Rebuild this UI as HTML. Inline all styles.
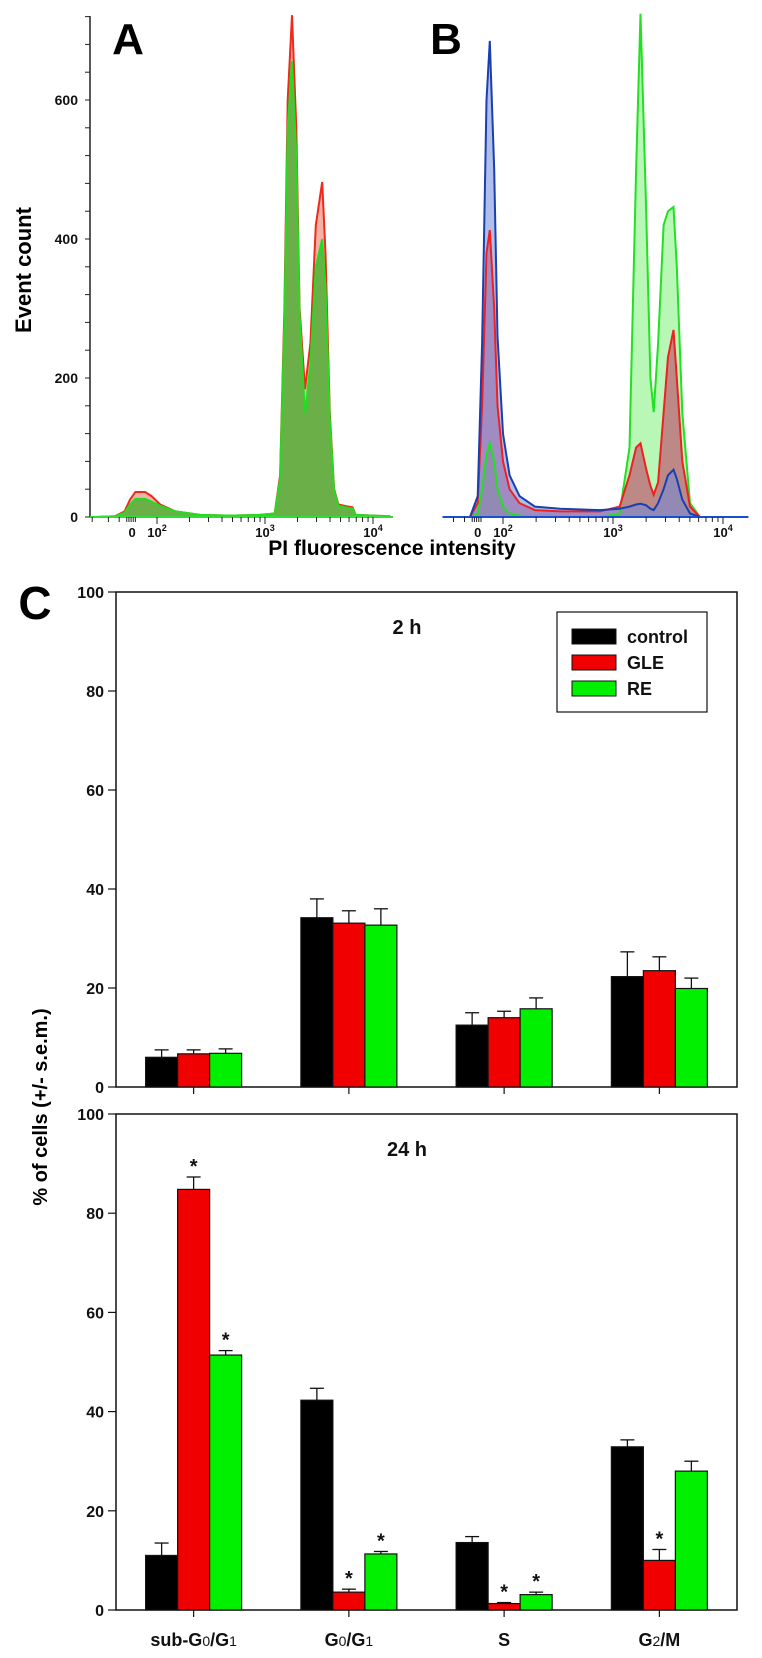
<!DOCTYPE html>
<html><head><meta charset="utf-8">
<style>
html,body{margin:0;padding:0;background:#fff;}
svg{display:block;font-family:"Liberation Sans",Arial,sans-serif;}
.b{font-weight:bold;}
.n{font-family:"Liberation Sans Narrow","Liberation Sans",sans-serif;font-weight:bold;}
</style></head>
<body>
<svg id="fig" width="762" height="1658" viewBox="0 0 762 1658" xmlns="http://www.w3.org/2000/svg">
<g id="hist"></g>
<g id="bars"></g>
</svg>
<script>
// ---------- Histogram data ----------
const histA_v = [1.43,1.61,1.70,1.75,1.80,1.89,1.95,2.03,2.17,2.40,2.68,2.95,3.09,3.14,3.18,3.21,3.25,3.29,3.32,3.37,3.42,3.47,3.53,3.56,3.60,3.64,3.68,3.77,3.81,3.84,4.16];
const histA_red = [0,1,8,25,36,36,30,18,8,3,2,3,5,60,300,600,722,560,300,184,250,420,482,380,150,40,18,15,14,3,1];
const histA_green = [0,1,6,18,26,26,22,16,8,3,2,3,5,55,280,560,656,520,290,148,220,360,400,330,140,38,16,13,12,3,1];
const histB_v = [1.45,1.70,1.77,1.81,1.85,1.88,1.92,1.95,2.00,2.06,2.15,2.29,2.52,2.88,3.06,3.15,3.21,3.25,3.30,3.34,3.37,3.41,3.46,3.50,3.55,3.58,3.63,3.70,3.79,4.23];
const histB_blue = [0,0,30,250,600,685,500,260,120,60,30,15,12,10,12,15,18,19,17,12,10,20,40,60,68,55,25,5,0,0];
const histB_red = [0,0,20,160,380,413,300,160,80,40,20,10,8,8,15,60,100,106,70,45,32,50,150,230,269,200,80,15,0,0];
const histB_green = [0,0,5,40,90,106,80,40,15,5,2,1,0,0,5,100,500,724,450,200,151,250,420,440,446,360,150,20,0,0];
const histYTicks = [0,200,400,600];

// ---------- Bar chart data ----------
const categories = ["sub-G0/G1","G0/G1","S","G2/M"];
const series = ["control","GLE","RE"];
const ctl2h = [6,34.2,12.5,22.3];
const ctl2hErr = [7.5,38,15,27.3];
const gle2h = [6.7,33.1,14,23.5];
const gle2hErr = [7.5,35.6,15.3,26.3];
const re2h = [6.8,32.7,15.8,19.9];
const re2hErr = [7.7,36,18,22];
const ctl24h = [11,42.3,13.6,32.9];
const ctl24hErr = [13.5,44.7,14.8,34.3];
const gle24h = [84.8,3.6,1.3,10];
const gle24hErr = [87.3,4.2,1.5,12.2];
const re24h = [51.4,11.3,3.1,28];
const re24hErr = [52.3,11.8,3.6,30];
const gle24hSig = [true,true,true,true];
const re24hSig = [true,true,true,false];
const barYTicks = [0,20,40,60,80,100];

const NS="http://www.w3.org/2000/svg";
function mk(parent,tag,attrs,text){const e=document.createElementNS(NS,tag);for(const k in attrs)e.setAttribute(k,attrs[k]);if(text!==undefined)e.textContent=text;parent.appendChild(e);return e;}

// ---------- Histograms ----------
const H=document.getElementById('hist');
const base=517, pxPer=0.695;
const yH=c=>base-c*pxPer;
const xA=v=>157+(v-2)*108;
const xB=v=>503+(v-2)*110;
function areaPath(xf,vs,cs){let d=`M${xf(vs[0])},${base}`;vs.forEach((v,i)=>{d+=` L${xf(v).toFixed(1)},${yH(cs[i]).toFixed(1)}`;});d+=` L${xf(vs[vs.length-1])},${base} Z`;return d;}
function linePath(xf,vs,cs){return vs.map((v,i)=>(i?'L':'M')+xf(v).toFixed(1)+','+yH(cs[i]).toFixed(1)).join(' ');}

// Panel A
let e;
e=mk(H,'path',{d:areaPath(xA,histA_v,histA_red),fill:'#f09080','fill-opacity':'0.7'});

e=mk(H,'path',{d:linePath(xA,histA_v,histA_red),fill:'none',stroke:'#ee2a1a','stroke-width':'2'});

e=mk(H,'path',{d:areaPath(xA,histA_v,histA_green),fill:'#6aaf48'});

e=mk(H,'path',{d:linePath(xA,histA_v,histA_green),fill:'none',stroke:'#22dd22','stroke-width':'2'});


// Panel B
const bSets=[[histB_green,'#7ef07a','#22e022','green'],[histB_red,'#c03060','#ee2020','red'],[histB_blue,'#6f8ad8','#1a3fb0','blue']];
bSets.forEach(s=>{
  e=mk(H,'path',{d:areaPath(xB,histB_v,s[0]),fill:s[1],'fill-opacity':'0.55'});
  
});
bSets.forEach(s=>{
  e=mk(H,'path',{d:linePath(xB,histB_v,s[0]),fill:'none',stroke:s[2],'stroke-width':'2'});
  
});

// y axis A
mk(H,'line',{x1:90,y1:16,x2:90,y2:base,stroke:'#222','stroke-width':'1.5'});
for(let c=0;c<=720;c+=40){mk(H,'line',{x1:85,y1:yH(c),x2:90,y2:yH(c),stroke:'#222','stroke-width':'1'});}
histYTicks.forEach(t=>{
  e=mk(H,'text',{x:78,y:yH(t)+5,'text-anchor':'end','font-size':'14','font-weight':'bold',fill:'#111'},t);
  
});
// x axes
function xAxis(xf,x0,x1,col,nm){
  mk(H,'line',{x1:x0,y1:base,x2:x1,y2:base,stroke:col,'stroke-width':'2'});
  const tv=[1.2,1.4,1.55,1.65,1.72,1.74,1.76,1.78,1.8];
  for(let d=2;d<=4;d++){for(let m=1;m<10;m++){const v=d+Math.log10(m);tv.push(v);}}
  tv.forEach(v=>{const x=xf(v);if(x>=x0&&x<=x1)mk(H,'line',{x1:x,y1:base,x2:x,y2:base+(Math.abs(v-Math.round(v))<0.001&&v>=2?7:5),stroke:'#222','stroke-width':'1'});});
  const labs=[[1.77,'0',''],[2,'10','2'],[3,'10','3'],[4,'10','4']];
  labs.forEach(l=>{
    const t=mk(H,'text',{x:xf(l[0]),y:base+20,'text-anchor':'middle','font-size':'13','font-weight':'bold',fill:'#111'});
    
    t.appendChild(document.createTextNode(l[1]));
    if(l[2]){const s=mk(t,'tspan',{'font-size':'9',dy:'-6'},l[2]);}
  });
}
xAxis(xA,90,393,'#33dd33','panel-a-x');
xAxis(xB,443,748,'#1a4fd0','panel-b-x');

e=mk(H,'text',{x:128,y:54,'text-anchor':'middle','font-size':'44','font-weight':'bold',fill:'#000'},'A');

e=mk(H,'text',{x:446,y:54,'text-anchor':'middle','font-size':'44','font-weight':'bold',fill:'#000'},'B');

e=mk(H,'text',{x:0,y:0,transform:'translate(31,270) rotate(-90)','text-anchor':'middle','font-size':'22','font-weight':'bold',fill:'#000'},'Event count');

e=mk(H,'text',{x:392,y:555,'text-anchor':'middle','font-size':'21','font-weight':'bold',fill:'#000'},'PI fluorescence intensity');


// ---------- Bar charts ----------
const B=document.getElementById('bars');
const L=116,R=737,bw=32;
const cx=i=>L+(R-L)/8*(2*i+1);
const colors=['#000000','#f00000','#00f000'];
function chart(top,bottom,title,vals,errs,sigs,nm){
  const y=v=>bottom-(bottom-top)*v/100;
  e=mk(B,'rect',{x:L,y:top,width:R-L,height:bottom-top,fill:'none',stroke:'#111','stroke-width':'1.5'});
  
  barYTicks.forEach(t=>{
    mk(B,'line',{x1:L-8,y1:y(t),x2:L,y2:y(t),stroke:'#111','stroke-width':'1.2'});
    e=mk(B,'text',{x:L-12,y:y(t)+6,'text-anchor':'end','font-size':'16','font-weight':'bold',fill:'#111'},t);
    
  });
  categories.forEach((c,i)=>{
    mk(B,'line',{x1:cx(i),y1:bottom,x2:cx(i),y2:bottom+7,stroke:'#111','stroke-width':'1.2'});
    vals.forEach((arr,s)=>{
      const x=cx(i)-1.5*bw+s*bw;
      const r=mk(B,'rect',{x:x,y:y(arr[i]),width:bw,height:y(0)-y(arr[i]),fill:colors[s],stroke:'#111','stroke-width':'1.2'});
      
      
      const ex=x+bw/2;
      mk(B,'line',{x1:ex,y1:y(arr[i]),x2:ex,y2:y(errs[s][i]),stroke:'#111','stroke-width':'1.3'});
      mk(B,'line',{x1:ex-7,y1:y(errs[s][i]),x2:ex+7,y2:y(errs[s][i]),stroke:'#111','stroke-width':'1.3'});
      if(sigs&&sigs[s]&&sigs[s][i]){
        const a=mk(B,'text',{x:ex,y:y(errs[s][i])-4,'text-anchor':'middle','font-size':'20','font-weight':'bold',fill:'#111'},'*');
        
        
      }
    });
  });
  e=mk(B,'text',{x:407,y:top+42,'text-anchor':'middle','font-size':'20',class:'n',fill:'#111'},title);
  
}
chart(592,1087,'2 h',[ctl2h,gle2h,re2h],[ctl2hErr,gle2hErr,re2hErr],null,'chart-2h');
chart(1114,1610,'24 h',[ctl24h,gle24h,re24h],[ctl24hErr,gle24hErr,re24hErr],[null,gle24hSig,re24hSig],'chart-24h');

// category labels
const catParts=[[['sub-G',''],['0','s'],['/G',''],['1','s']],[['G',''],['0','s'],['/G',''],['1','s']],[['S','']],[['G',''],['2','s'],['/M','']]];
catParts.forEach((parts,i)=>{
  const t=mk(B,'text',{x:cx(i),y:1646,'text-anchor':'middle','font-size':'18','font-weight':'bold',fill:'#111'});
  
  
  parts.forEach(p=>{mk(t,'tspan',p[1]?{'font-size':'14','font-weight':'normal'}:{},p[0]);});
});

// legend
e=mk(B,'rect',{x:557,y:612,width:150,height:100,fill:'#fff',stroke:'#111','stroke-width':'1.2'});

series.forEach((s,k)=>{
  const yy=629+k*26;
  e=mk(B,'rect',{x:572,y:yy,width:44,height:15,fill:colors[k],stroke:'#111','stroke-width':'1'});
  
  e=mk(B,'text',{x:627,y:yy+14,'font-size':'18',class:'n',fill:'#111'},s);
  
});

e=mk(B,'text',{x:35,y:619,'text-anchor':'middle','font-size':'46','font-weight':'bold',fill:'#000'},'C');

e=mk(B,'text',{x:0,y:0,transform:'translate(47,1107) rotate(-90)','text-anchor':'middle','font-size':'20','font-weight':'bold',fill:'#000'},'% of cells (+/- s.e.m.)');

</script>
</body></html>
